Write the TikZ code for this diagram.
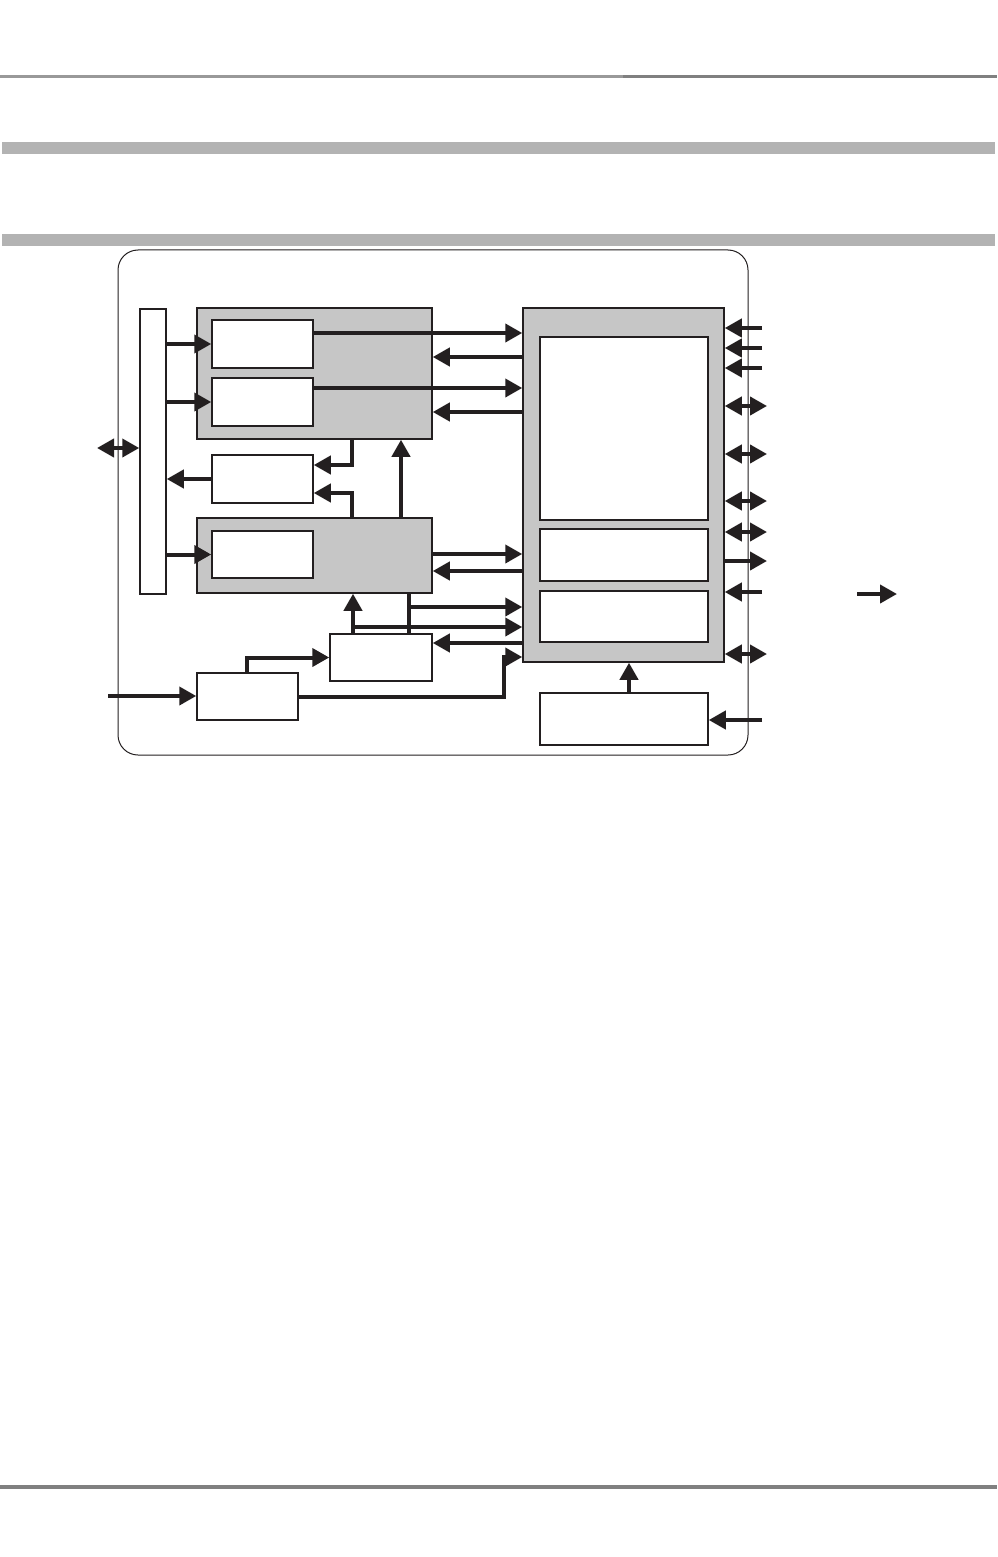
\documentclass[tikz,border=0pt]{standalone}
\usepackage{tikz}
\usetikzlibrary{arrows.meta,positioning,calc,fit}
\definecolor{ink}{HTML}{231F20}
\definecolor{pgray}{HTML}{C6C6C6}
\definecolor{pband}{HTML}{B3B3B3}
\definecolor{prule}{HTML}{808080}
\definecolor{prulel}{HTML}{999999}
\tikzset{
  % boxes are fitted to their corner points, no padding
  gblk/.style  = {rectangle, draw=ink, fill=pgray, line width=0.75pt, inner sep=0pt},
  wblk/.style  = {rectangle, draw=ink, fill=white, line width=0.75pt, inner sep=0pt},
  frame/.style = {rectangle, draw=ink, rounded corners=10pt, line width=0.5pt, inner sep=0pt},
  arr/.style   = {-{Triangle[length=8.5pt,width=9pt]}, line width=2pt, ink},
  darr/.style  = {{Triangle[length=8.5pt,width=9pt]}-{Triangle[length=8.5pt,width=9pt]}, line width=2pt, ink},
  wire/.style  = {line width=2pt, ink},
}

\begin{document}
\begin{tikzpicture}[x=0.5pt,y=-0.5pt]
\useasboundingbox (0,0) rectangle (997,1557);
% page rules
\draw[prulel, line width=1.5pt] (0,76.5) -- (623,76.5);
\draw[prule, line width=1.5pt] (623,76.5) -- (997,76.5);
\fill[pband] (2,142) rectangle (995,154);
\fill[pband] (2,234) rectangle (995,246);
\fill[prule] (0,1485) rectangle (997,1489);
% blocks
\node[frame, fit={(118,250) (748,755)}] (frm) {};
\node[wblk, fit={(140,309) (166,594)}] (bus) {};
\node[gblk, fit={(197,308) (432,439)}] (gone) {};
\node[wblk, fit={(212,320) (313,368)}] (a) {};
\node[wblk, fit={(212,378) (313,426)}] (b) {};
\node[wblk, fit={(212,455) (313,503)}] (c) {};
\node[gblk, fit={(197,518) (432,593)}] (gtwo) {};
\node[wblk, fit={(212,531) (313,578)}] (d) {};
\node[wblk, fit={(330,634) (432,681)}] (e) {};
\node[wblk, fit={(197,673) (298,720)}] (f) {};
\node[gblk, fit={(523,308) (724,662)}] (g) {};
\node[wblk, fit={(540,337) (708,520)}] (gi) {};
\node[wblk, fit={(540,529) (708,581)}] (gii) {};
\node[wblk, fit={(540,591) (708,642)}] (giii) {};
\node[wblk, fit={(540,693) (708,745)}] (h) {};
\coordinate (lio) at (97,448);
\coordinate (fin) at (108,696);
\coordinate (jone) at (409,607);
\coordinate (jtwo) at (353,627);
\coordinate (lone) at (857,594);
\coordinate (ltwo) at (897,594);
% bus side
\draw[darr] (lio) -- (bus.west |- lio);
\draw[arr] (bus.east |- a.west) -- (a.west);
\draw[arr] (bus.east |- b.west) -- (b.west);
\draw[arr] (c.west) -- (bus.east |- c.west);
\draw[arr] (bus.east |- d.west) -- (d.west);
% middle column
\draw[arr] (gone.south -| 352,0) |- (c.east |- 0,465);
\draw[arr] (gtwo.north -| 352,0) |- (c.east |- 0,493);
\draw[arr] (gtwo.north -| 401,0) -- (gone.south -| 401,0);
\draw[arr] (e.north -| jtwo) -- (gtwo.south -| jtwo);
\draw[wire] (gtwo.south -| jone) -- (e.north -| jone);
\draw[arr] (jone) -- (g.west |- jone);
\draw[arr] (jtwo) -- (g.west |- jtwo);
\draw[arr] (g.west |- 0,643) -- (e.east |- 0,643);
\draw[arr] (f.north -| 247,0) |- (e.west);
\draw[arr] (fin) -- (f.west |- fin);
\draw[arr] (f.east) -| (504,657) -- (g.west |- 0,657);
% links to the big block
\draw[arr] (a.east |- 0,333) -- (g.west |- 0,333);
\draw[arr] (g.west |- 0,357) -- (gone.east |- 0,357);
\draw[arr] (b.east |- 0,388) -- (g.west |- 0,388);
\draw[arr] (g.west |- 0,412) -- (gone.east |- 0,412);
\draw[arr] (gtwo.east |- 0,554) -- (g.west |- 0,554);
\draw[arr] (g.west |- 0,571) -- (gtwo.east |- 0,571);
\draw[arr] (h.north -| 629,0) -- (g.south -| 629,0);
% pins on the right
\foreach \y [count=\i] in {328,348,368,592} {
  \coordinate (pin\i) at (762,\y);
  \draw[arr] (pin\i) -- (g.east |- pin\i);
}
\foreach \y [count=\i] in {406,454,501,532,654} {
  \coordinate (io\i) at (767,\y);
  \draw[darr] (g.east |- io\i) -- (io\i);
}
\coordinate (pout) at (767,561);
\draw[arr] (g.east |- pout) -- (pout);
\coordinate (hin) at (762,720);
\draw[arr] (hin) -- (h.east |- hin);
\draw[arr] (lone) -- (ltwo);
\end{tikzpicture}
\end{document}
